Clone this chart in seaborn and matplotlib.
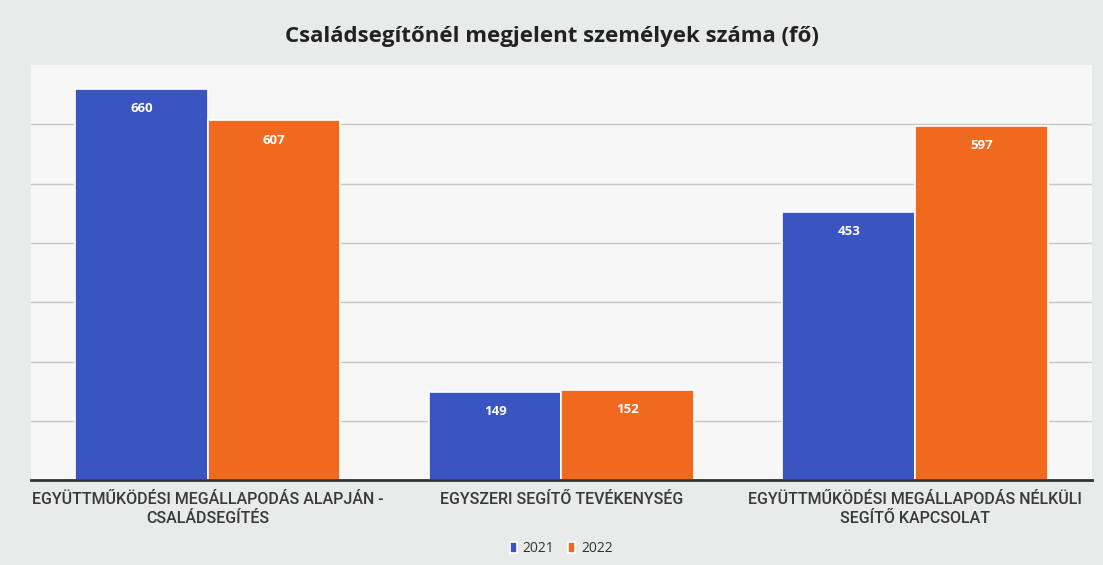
import pandas as pd
import matplotlib.pyplot as plt
import seaborn as sns

categories = [
    "EGYÜTTMŰKÖDÉSI MEGÁLLAPODÁS ALAPJÁN -\nCSALÁDSEGÍTÉS",
    "EGYSZERI SEGÍTŐ TEVÉKENYSÉG",
    "EGYÜTTMŰKÖDÉSI MEGÁLLAPODÁS NÉLKÜLI\nSEGÍTŐ KAPCSOLAT",
]
years = ["2021", "2022"]
values_2021 = [660, 149, 453]
values_2022 = [607, 152, 597]
colors = ["#3a55c2", "#f0691e"]

df = pd.DataFrame({
    "kategoria": categories * 2,
    "ev": [years[0]] * 3 + [years[1]] * 3,
    "fo": values_2021 + values_2022,
})

sns.set_style("white")
plt.rcParams["font.family"] = ["Open Sans", "DejaVu Sans"]

fig = plt.figure(figsize=(11.03, 5.65), dpi=100)
fig.patch.set_facecolor("#e9eaea")
ax = fig.add_axes([0.028, 0.150, 0.962, 0.735])
ax.set_facecolor("#f7f7f7")

sns.barplot(data=df, x="kategoria", y="fo", hue="ev", palette=colors,
            width=0.75, edgecolor="white", linewidth=1.2, saturation=1, ax=ax)

ax.set_xlim(-0.5, 2.5)
ax.set_ylim(0, 700)
ax.set_yticks(range(0, 601, 100))
ax.yaxis.grid(True, color="#c8c8c8", linewidth=1)
ax.set_axisbelow(True)
ax.tick_params(axis="y", left=False, labelleft=False)
ax.tick_params(axis="x", bottom=False, pad=5)
for s in ["top", "right", "left"]:
    ax.spines[s].set_visible(False)
ax.spines["bottom"].set_color("#333333")
ax.spines["bottom"].set_linewidth(2)
ax.set_xlabel("")
ax.set_ylabel("")

for lab in ax.get_xticklabels():
    lab.set_family(["Roboto", "DejaVu Sans"])
    lab.set_fontsize(11.5)
    lab.set_fontweight("medium")
    lab.set_color("#3a3a3a")
    lab.set_linespacing(1.3)

for cont in ax.containers:
    ax.bar_label(cont, label_type="edge", padding=-19, color="white",
                 fontsize=9.5, fontweight="bold")

fig.text(0.5, 0.935, "Családsegítőnél megjelent személyek száma (fő)",
         ha="center", va="center", fontsize=16, fontweight="bold", color="#222222")

leg = ax.legend(loc="center", bbox_to_anchor=(0.5, -0.165), ncol=2, frameon=False,
                fontsize=10, handlelength=0.5, handleheight=0.8, handletextpad=0.4,
                columnspacing=1.0)
for t in leg.get_texts():
    t.set_color("#333333")
    t.set_fontweight("medium")

plt.savefig("out.png", dpi=100, facecolor=fig.get_facecolor())
plt.close()
